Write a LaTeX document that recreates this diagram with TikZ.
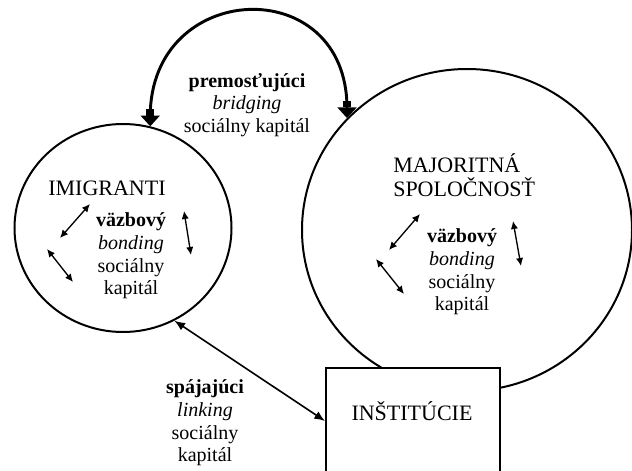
\documentclass[tikz,border=0pt]{standalone}
\usepackage{fontspec}
\setmainfont{Liberation Serif}
\usetikzlibrary{shapes.geometric,arrows.meta}

\tikzset{
  groupcircle/.style={draw,ellipse,line width=1.5pt,inner sep=0pt},
  instbox/.style={draw,fill=white,line width=1.5pt,inner sep=0pt,minimum width=130.5pt,minimum height=79.5pt},
  capital/.style={align=center,inner sep=0pt,font=\fontsize{15}{17}\selectfont},
  grouplabel/.style={align=left,inner sep=0pt,font=\fontsize{16.5}{18}\selectfont},
  bondarrow/.style={line width=1pt,{Latex[length=6pt,width=5.5pt]}-{Latex[length=6pt,width=5.5pt]}},
  bridgearrow/.style={line width=2.2pt,{Triangle[width=14pt,length=8pt]Rectangle[width=6pt,length=5pt]}-{Rectangle[width=6pt,length=5pt]Triangle[width=14pt,length=8pt]}},
  linkarrow/.style={line width=1.2pt,{Latex[length=8pt,width=6.5pt]}-{Latex[length=8pt,width=6.5pt]}},
}

\begin{document}
\begin{tikzpicture}[x=0.75pt,y=-0.75pt]
\useasboundingbox (0,0) rectangle (632,471);
\clip (0,0) rectangle (632,471);
% groups
\node[groupcircle,minimum width=247.5pt,minimum height=241.5pt] (maj) at (467,230) {};
\node[groupcircle,minimum width=162.75pt,minimum height=156pt] (imig) at (123,228) {};
\node[instbox] (inst) at (413,421) {};
% names
\node[grouplabel,anchor=base] (imiglbl) at (107,195) {IMIGRANTI};
\node[grouplabel,anchor=west] (majlbl) at (393,175) {MAJORITNÁ\\SPOLOČNOSŤ};
\node[grouplabel,anchor=base] (instlbl) at (412,420) {INŠTITÚCIE};
% capital texts
\node[capital] (bridgelbl) at (247,105) {\textbf{premosťujúci}\\\textit{bridging}\\sociálny kapitál};
\node[capital] (bondimig) at (131,256) {\textbf{väzbový}\\\textit{bonding}\\sociálny\\kapitál};
\node[capital] (bondmaj) at (462,272) {\textbf{väzbový}\\\textit{bonding}\\sociálny\\kapitál};
\node[capital] (linklbl) at (205,423) {\textbf{spájajúci}\\\textit{linking}\\sociálny\\kapitál};
% small arrows inside the groups
\coordinate (ia1) at (60,238); \coordinate (ib1) at (90,204);
\coordinate (ia2) at (47,249); \coordinate (ib2) at (73,282);
\coordinate (ia3) at (184,211); \coordinate (ib3) at (191,255);
\coordinate (ma1) at (389,250); \coordinate (mb1) at (420,214);
\coordinate (ma2) at (376,259); \coordinate (mb2) at (404,294);
\coordinate (ma3) at (513,221); \coordinate (mb3) at (521,266);
\foreach \i in {1,2,3} {
  \draw[bondarrow] (ia\i) -- (ib\i);
  \draw[bondarrow] (ma\i) -- (mb\i);
}
% connectors
\draw[bridgearrow] (imig.75) .. controls +(0,-147) and +(0,-147) .. (maj.137);
\draw[linkarrow] (imig.-61) -- (inst.west);
\end{tikzpicture}
\end{document}
